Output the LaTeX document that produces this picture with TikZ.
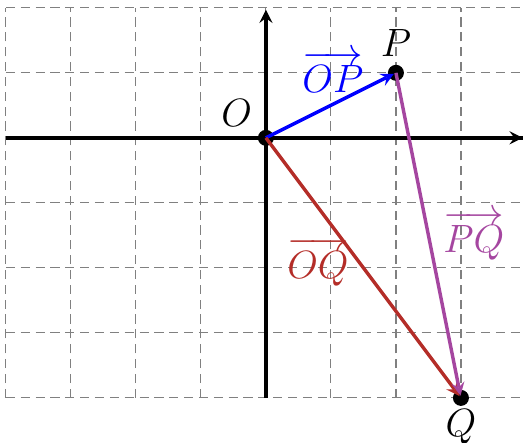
\documentclass[tikz,border=0pt]{standalone}
\usepackage{amsmath}
\usetikzlibrary{positioning}

\definecolor{oqred}{RGB}{180,45,40}
\definecolor{pqviolet}{RGB}{165,70,160}

\tikzset{
    dot/.style={circle, fill=black, inner sep=0pt, minimum size=7pt},
    vec/.style={line width=1.5pt, -stealth, shorten >=1pt},
    axis/.style={line width=1.5pt}
}

\begin{document}
\begin{tikzpicture}
    % Fix the margins of the picture
    \useasboundingbox (-4.09,-4.68) rectangle (3.97,2.12);
    
    % Dashed grid in the background
    \draw[gray, dash pattern=on 4pt off 2.5pt, line width=0.5pt] (-4,-4) grid (4,2);
    
    % Axes
    \draw[axis] (-4,0) -- (3.95,0);
    \draw[axis, -stealth] (3.8,0) -- (3.95,0);
    \draw[axis, -stealth] (0,-4) -- (0,1.97);
    
    % The three points
    \node[dot] (O) at (0,0) {};
    \node[dot] (P) at (2,1) {};
    \node[dot] (Q) at (3,-4) {};
    
    % Names of the points
    \node at (-0.45,0.38) {\LARGE $O$};
    \node[above=0pt of P] {\LARGE $P$};
    \node[below=-2pt of Q] {\LARGE $Q$};
    
    % Vectors
    \draw[vec, blue] (O.center) -- (P.center);
    \draw[vec, oqred] (O.center) -- (Q.center);
    \draw[vec, pqviolet] (P.center) -- (Q.center);
    
    % Labels of the vectors
    \node[blue] at (1.03,1.02) {\LARGE $\overrightarrow{OP}$};
    \node[oqred] at (0.8,-1.9) {\LARGE $\overrightarrow{OQ}$};
    \node[pqviolet] at (3.2,-1.5) {\LARGE $\overrightarrow{PQ}$};
\end{tikzpicture}
\end{document}
